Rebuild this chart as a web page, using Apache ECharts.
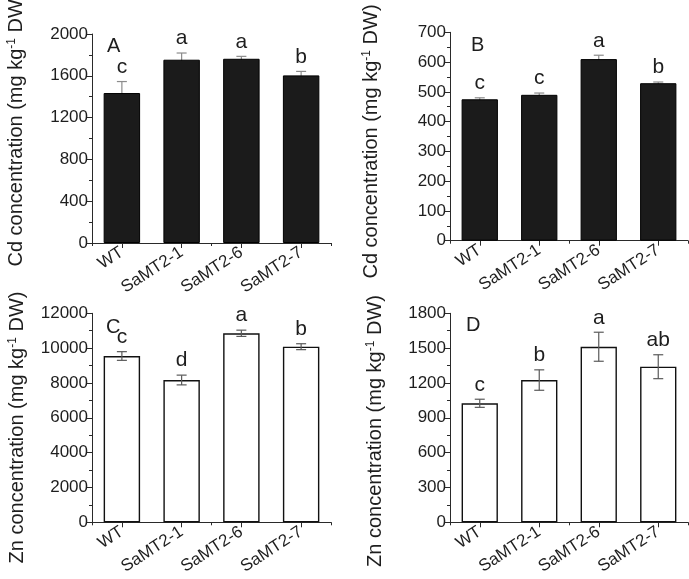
<!DOCTYPE html>
<html>
<head>
<meta charset="utf-8">
<script src="https://cdn.jsdelivr.net/npm/echarts@6/dist/echarts.min.js"></script>
<style>
html,body{margin:0;padding:0;background:#fff;}
#main{width:689px;height:579px;}
</style>
</head>
<body>
<div id="main"></div>
<script>
const categories = ['WT', 'SaMT2-1', 'SaMT2-6', 'SaMT2-7'];

// Panel A: Cd concentration (black bars)
const cdAMean = [1435, 1754, 1763, 1604];
const cdAErr = [110, 64, 23, 38];
const cdALetters = ['c', 'a', 'a', 'b'];
const cdATicks = { min: 0, max: 2000, interval: 400 };

// Panel B: Cd concentration (black bars)
const cdBMean = [475, 490, 610, 529];
const cdBErr = [5, 6, 13, 4];
const cdBLetters = ['c', 'c', 'a', 'b'];
const cdBTicks = { min: 0, max: 700, interval: 100 };

// Panel C: Zn concentration (white bars)
const znCMean = [9548, 8170, 10852, 10083];
const znCErr = [250, 280, 180, 170];
const znCLetters = ['c', 'd', 'a', 'b'];
const znCTicks = { min: 0, max: 12000, interval: 2000 };

// Panel D: Zn concentration (white bars)
const znDMean = [1025, 1225, 1512, 1340];
const znDErr = [35, 88, 125, 103];
const znDLetters = ['c', 'b', 'a', 'ab'];
const znDTicks = { min: 0, max: 1800, interval: 300 };

const panelLetters = ['A', 'B', 'C', 'D'];
const cdTitle = 'Cd concentration (mg kg{sup|-1} DW)';
const znTitle = 'Zn concentration (mg kg{sup|-1} DW)';

const FONT = 'Liberation Sans, Arial, sans-serif';
const TXT = '#1e1e1e';
const AX = '#2a2a2a';

const panels = [
  { mean: cdAMean, err: cdAErr, letters: cdALetters, ticks: cdATicks, dark: true,
    grid: { left: 92, top: 34, width: 239, height: 209 },
    title: cdTitle, titlePos: [16, 129.5], letterPos: [107, 36] },
  { mean: cdBMean, err: cdBErr, letters: cdBLetters, ticks: cdBTicks, dark: true,
    grid: { left: 450, top: 32.3, width: 238, height: 208.4 },
    title: cdTitle, titlePos: [371, 141.5], letterPos: [471, 35] },
  { mean: znCMean, err: znCErr, letters: znCLetters, ticks: znCTicks, dark: false,
    grid: { left: 92, top: 313.3, width: 239, height: 209 },
    title: znTitle, titlePos: [17, 427.5], letterPos: [106, 317] },
  { mean: znDMean, err: znDErr, letters: znDLetters, ticks: znDTicks, dark: false,
    grid: { left: 450, top: 313.3, width: 238, height: 209 },
    title: znTitle, titlePos: [375, 431], letterPos: [466, 315] }
];

const grids = [], xAxes = [], yAxes = [], series = [], graphics = [];

panels.forEach((p, i) => {
  grids.push(Object.assign({ outerBoundsMode: 'none', containLabel: false }, p.grid));
  xAxes.push({
    type: 'category', gridIndex: i, data: categories, position: 'bottom',
    axisLine: { show: true, lineStyle: { color: AX, width: 1 } },
    axisTick: { show: true, alignWithLabel: true, length: 5, lineStyle: { color: AX } },
    axisLabel: { rotate: 33, fontSize: 17, color: TXT, fontFamily: FONT, margin: 8, interval: 0 },
    splitLine: { show: false }
  });
  xAxes.push({
    type: 'category', gridIndex: i, data: categories, position: 'bottom',
    axisLine: { show: false },
    axisTick: { show: true, length: 3, lineStyle: { color: AX } },
    axisLabel: { show: false },
    splitLine: { show: false }
  });
  yAxes.push({
    type: 'value', gridIndex: i, min: p.ticks.min, max: p.ticks.max, interval: p.ticks.interval,
    axisLine: { show: true, lineStyle: { color: AX, width: 1 } },
    axisTick: { show: true, length: 5, lineStyle: { color: AX } },
    minorTick: { show: true, splitNumber: 2, length: 3, lineStyle: { color: AX } },
    axisLabel: { fontSize: 17, color: TXT, fontFamily: FONT, margin: 4, formatter: v => String(v) },
    splitLine: { show: false }
  });

  series.push({
    type: 'bar', xAxisIndex: i * 2, yAxisIndex: i, data: p.mean, barWidth: '61%',
    z: 3,
    itemStyle: p.dark
      ? { color: '#1b1b1b', borderColor: '#000', borderWidth: 1 }
      : { color: '#ffffff', borderColor: '#111', borderWidth: 1.4 }
  });

  const errData = p.mean.map((m, k) => [k, m - p.err[k], m + p.err[k]]);
  const errColor = p.dark ? '#8c8c8c' : '#5a5a5a';
  series.push({
    type: 'custom', xAxisIndex: i * 2, yAxisIndex: i, data: errData,
    z: p.dark ? 2 : 4, silent: true,
    renderItem: function (params, api) {
      const x = api.value(0);
      const lo = api.coord([x, api.value(1)]);
      const hi = api.coord([x, api.value(2)]);
      const hw = 5;
      const st = { stroke: errColor, lineWidth: 1.2 };
      return {
        type: 'group',
        children: [
          { type: 'line', shape: { x1: lo[0], y1: lo[1], x2: hi[0], y2: hi[1] }, style: st },
          { type: 'line', shape: { x1: hi[0] - hw, y1: hi[1], x2: hi[0] + hw, y2: hi[1] }, style: st },
          { type: 'line', shape: { x1: lo[0] - hw, y1: lo[1], x2: lo[0] + hw, y2: lo[1] }, style: st }
        ]
      };
    }
  });

  const letterData = p.mean.map((m, k) => [k, m + p.err[k]]);
  series.push({
    type: 'custom', xAxisIndex: i * 2, yAxisIndex: i, data: letterData,
    z: 5, silent: true,
    renderItem: function (params, api) {
      const c = api.coord([api.value(0), api.value(1)]);
      return {
        type: 'text',
        x: c[0], y: c[1] - 4,
        style: {
          text: p.letters[params.dataIndex], fontSize: 21, fontFamily: FONT, fill: TXT,
          align: 'center', verticalAlign: 'bottom'
        }
      };
    }
  });

  graphics.push({
    type: 'text', x: p.letterPos[0], y: p.letterPos[1],
    style: { text: panelLetters[i], fontSize: 20, fontFamily: FONT, fill: TXT, textAlign: 'left', textVerticalAlign: 'top' }
  });
  graphics.push({
    type: 'text', x: p.titlePos[0], y: p.titlePos[1], rotation: Math.PI / 2,
    style: {
      text: p.title, fontSize: 20, fontFamily: FONT, fill: TXT,
      textAlign: 'center', textVerticalAlign: 'middle',
      rich: {
        sup: { fontSize: 12, fontFamily: FONT, fill: TXT, verticalAlign: 'top', lineHeight: 12 }
      }
    }
  });
});

const chart = echarts.init(document.getElementById('main'), null, { renderer: 'canvas' });
chart.setOption({
  animation: false,
  backgroundColor: '#ffffff',
  grid: grids,
  xAxis: xAxes,
  yAxis: yAxes,
  series: series,
  graphic: graphics
});
</script>
</body>
</html>
